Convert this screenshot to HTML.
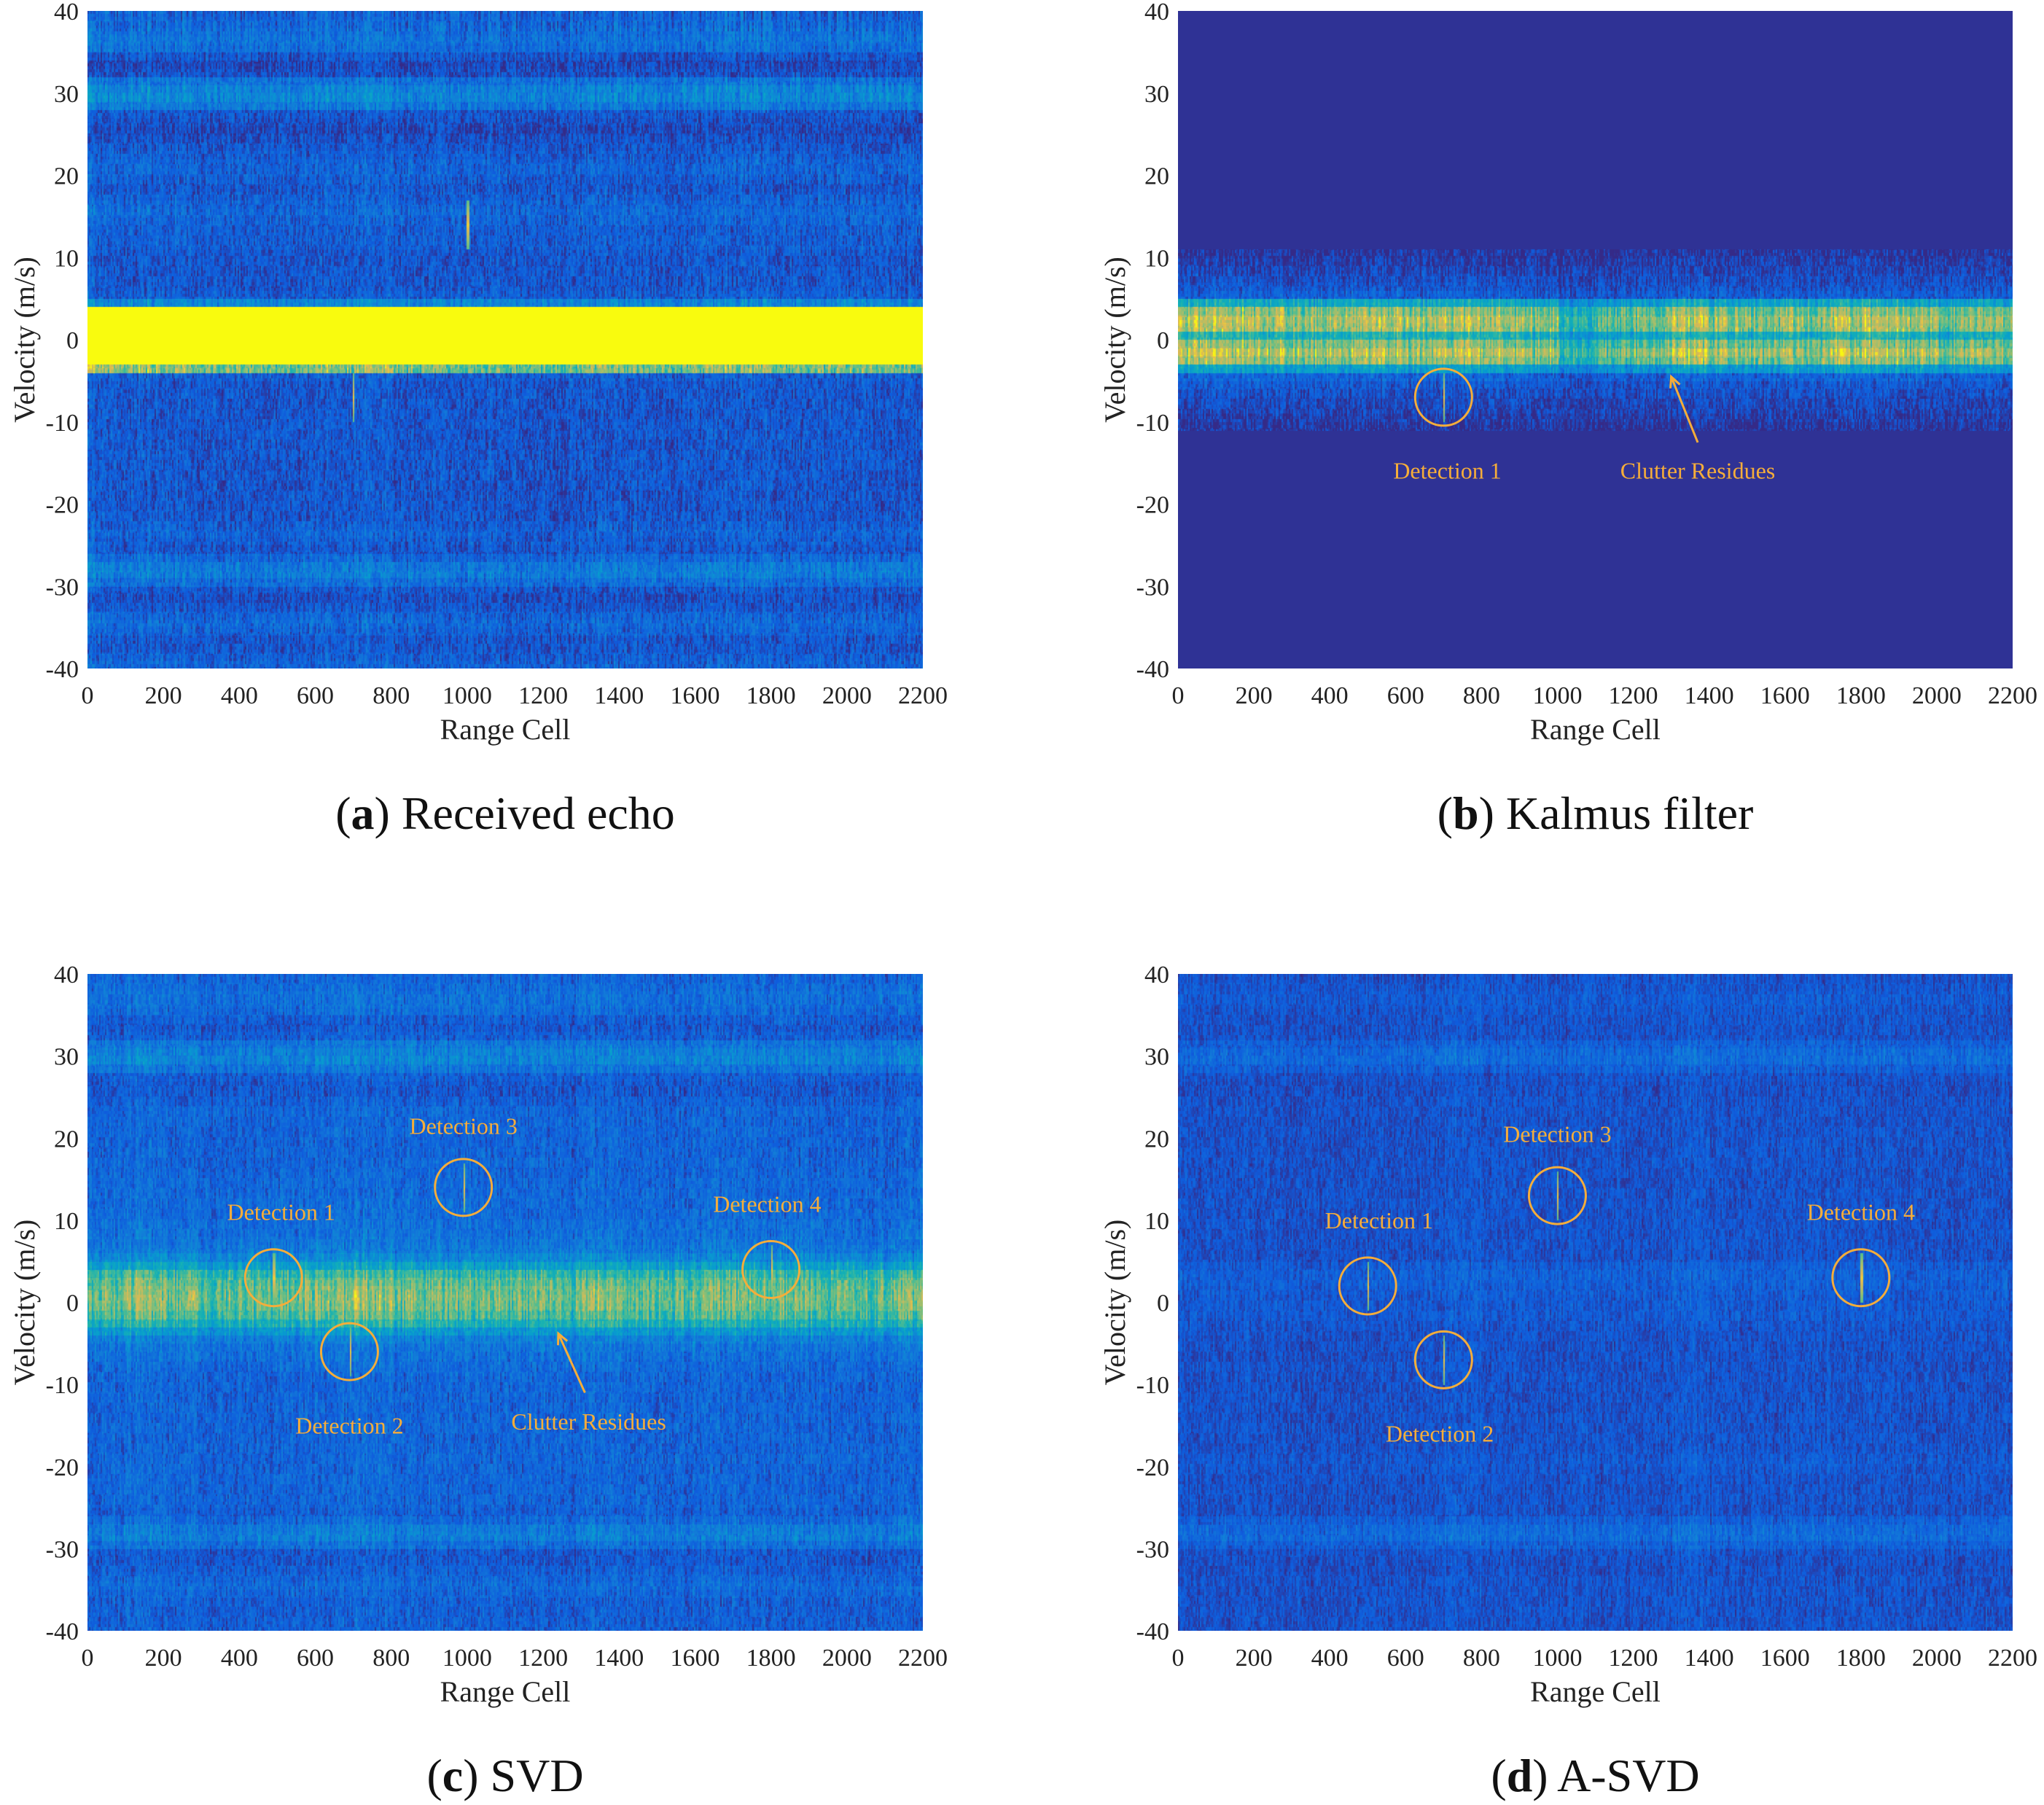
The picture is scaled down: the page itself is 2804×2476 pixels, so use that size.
<!DOCTYPE html>
<html><head><meta charset="utf-8">
<style>
html,body{margin:0;padding:0;background:#fff;}
#root{position:relative;width:2804px;height:2476px;overflow:hidden;font-family:"Liberation Serif",serif;color:#222;}
canvas{position:absolute;}
svg{position:absolute;left:0;top:0;}
</style></head>
<body>
<div id="root">
<svg id="ov" width="2804" height="2476"></svg>
</div>
<script>
// ---- data (velocity rows at 1 m/s bins from +40 to -40, top to bottom; range columns per 100 cells) ----
const velTicks = [40,30,20,10,0,-10,-20,-30,-40];
const rangeTicks = [0,200,400,600,800,1000,1200,1400,1600,1800,2000,2200];
const captions = ["Received echo","Kalmus filter","SVD","A-SVD"];
const captionLetters = ["a","b","c","d"];
const rowsA = [0.16,0.18,0.2,0.22,0.2,0.12,0.08,0.1,0.22,0.28,0.3,0.24,0.12,0.1,0.08,0.1,0.12,0.14,0.16,0.16,0.14,0.12,0.14,0.16,0.18,0.16,0.14,0.14,0.14,0.12,0.12,0.12,0.12,0.12,0.14,0.3,1,1,1,1,1,1,1,0.7,0.14,0.12,0.12,0.12,0.12,0.12,0.12,0.12,0.12,0.12,0.12,0.12,0.12,0.12,0.12,0.12,0.12,0.12,0.14,0.16,0.14,0.12,0.18,0.24,0.26,0.2,0.12,0.1,0.12,0.16,0.18,0.16,0.12,0.12,0.14,0.16];
const rowsB = [0,0,0,0,0,0,0,0,0,0,0,0,0,0,0,0,0,0,0,0,0,0,0,0,0,0,0,0,0,0.03,0.05,0.07,0.09,0.11,0.14,0.45,0.7,0.78,0.75,0.5,0.7,0.8,0.72,0.4,0.16,0.12,0.1,0.08,0.07,0.05,0.03,0,0,0,0,0,0,0,0,0,0,0,0,0,0,0,0,0,0,0,0,0,0,0,0,0,0,0,0,0];
const rowsC = [0.16,0.18,0.2,0.2,0.18,0.14,0.12,0.14,0.22,0.26,0.28,0.22,0.14,0.12,0.12,0.14,0.16,0.16,0.16,0.16,0.16,0.16,0.16,0.16,0.17,0.17,0.17,0.18,0.18,0.18,0.2,0.2,0.22,0.24,0.3,0.4,0.55,0.62,0.66,0.68,0.66,0.6,0.5,0.36,0.26,0.22,0.2,0.18,0.17,0.16,0.16,0.16,0.16,0.16,0.16,0.16,0.16,0.16,0.16,0.16,0.16,0.16,0.16,0.16,0.16,0.14,0.18,0.24,0.26,0.2,0.12,0.12,0.14,0.16,0.18,0.16,0.14,0.14,0.14,0.14];
const rowsD = [0.1,0.11,0.12,0.12,0.11,0.1,0.1,0.1,0.14,0.17,0.18,0.14,0.1,0.09,0.09,0.1,0.1,0.1,0.1,0.1,0.1,0.1,0.1,0.1,0.1,0.1,0.1,0.1,0.1,0.1,0.1,0.1,0.1,0.1,0.1,0.13,0.14,0.14,0.13,0.12,0.12,0.12,0.11,0.1,0.1,0.1,0.1,0.1,0.1,0.1,0.1,0.1,0.1,0.1,0.1,0.1,0.1,0.1,0.11,0.12,0.11,0.1,0.1,0.1,0.1,0.1,0.14,0.17,0.18,0.14,0.1,0.09,0.09,0.1,0.1,0.1,0.1,0.1,0.1,0.1];
const colsA = [1.1,1.05,1.0,0.95,0.9,0.95,1.0,1.15,0.95,0.9,0.95,0.9,0.9,1.0,0.95,0.9,1.0,1.0,0.95,0.95,1.0,0.95];
const colsB = [1.0,1.05,1.0,0.95,0.95,1.0,0.95,1.05,1.0,0.95,0.7,0.85,0.9,1.05,0.95,0.9,0.95,1.0,1.05,0.95,0.9,0.9];
const colsC = [1.0,1.05,1.0,0.95,0.95,1.0,1.05,1.1,1.0,1.0,1.0,0.95,0.95,1.05,1.0,0.95,1.0,1.0,1.0,0.95,0.95,1.0];
const colsD = [1.0,1.0,0.95,0.95,0.95,1.0,1.0,1.2,1.0,1.0,1.0,1.0,1.0,1.2,1.0,1.0,1.05,1.1,1.05,1.0,1.0,1.0];
const detA_r = [1000,700]; const detA_v = [14,-7];
const detB_r = [700]; const detB_v = [-7];
const detC_r = [490,690,990,1800]; const detC_v = [3,-6,14,4];
const detD_r = [500,700,1000,1800]; const detD_v = [2,-7,13,3];
const labelC_r = [510,690,990,1790]; const labelC_v = [11,-15,21.5,12];
const labelD_r = [530,690,1000,1800]; const labelD_v = [10,-16,20.5,11];

const panels = [
 {x:120,y:15,w:1146,h:902,rows:rowsA,cols:colsA,dr:detA_r,dv:detA_v,amp:0.22,circles:false},
 {x:1616,y:15,w:1145,h:902,rows:rowsB,cols:colsB,dr:detB_r,dv:detB_v,amp:0.2,circles:true},
 {x:120,y:1336,w:1146,h:901,rows:rowsC,cols:colsC,dr:detC_r,dv:detC_v,amp:0.2,circles:true},
 {x:1616,y:1336,w:1145,h:901,rows:rowsD,cols:colsD,dr:detD_r,dv:detD_v,amp:0.16,circles:true}
];
const parula=[[53,42,135],[15,92,221],[18,125,216],[7,156,207],[21,177,180],[89,189,140],[165,190,107],[225,185,82],[249,251,14]];
function cmap(v){v=Math.max(0,Math.min(1,v));const f=v*8,i=Math.min(7,Math.floor(f)),t=f-i;const a=parula[i],b=parula[i+1];return [a[0]+(b[0]-a[0])*t,a[1]+(b[1]-a[1])*t,a[2]+(b[2]-a[2])*t];}
function hash(a,b){let h=(a*374761393+b*668265263)|0;h=(h^(h>>>13))*1274126177|0;return ((h^(h>>>16))>>>0)/4294967296;}
const root=document.getElementById('root');
const ov=document.getElementById('ov');
const NS='http://www.w3.org/2000/svg';
function sx(p,r){return p.x+r/2200*p.w;}
function sy(p,v){return p.y+(40-v)/80*p.h;}
function txt(parent,x,y,s,size,anchor,fill,name,rot){
 const t=document.createElementNS(NS,'text');
 t.setAttribute('x',x);t.setAttribute('y',y);t.setAttribute('font-size',size);
 t.setAttribute('font-family','"Liberation Serif", serif');t.setAttribute('text-anchor',anchor);
 t.setAttribute('fill',fill);
 if(rot)t.setAttribute('transform','rotate(-90 '+x+' '+y+')');
 t.textContent=s;
 
 
 parent.appendChild(t);return t;
}
panels.forEach((p,pi)=>{
 const c=document.createElement('canvas');
 c.width=p.w;c.height=p.h;c.style.left=p.x+'px';c.style.top=p.y+'px';
 
 
 root.insertBefore(c,ov);
 const ctx=c.getContext('2d');const img=ctx.createImageData(p.w,p.h);
 const NR=p.rows.length;
 const cw=2;
 for(let px=0;px<p.w;px+=cw){
  const r=px/p.w*2200;const ci=Math.min(p.cols.length-1,Math.floor(r/100));
  const colf=p.cols[ci]*(0.8+0.4*hash(px>>1,pi*7+1));
  for(let py=0;py<p.h;py++){
   const v=40-py/p.h*80;
   const ri=Math.min(NR-1,Math.floor((40-v)/80*NR));
   let base=p.rows[ri];
   let val;
   if(base>=0.95){val=1;}
   else if(base<=0){val=0.02;}
   else{
    const n=hash(px>>1,(py/14|0)+pi*1000)-0.5;
    const n2=hash(px>>1,(py/4|0)+pi*3000)-0.5;
    val=base*colf+(n*0.7+n2*0.5)*p.amp*(base>0.5?1.2:1);
   }
   for(let k=0;k<p.dr.length;k++){
    const dx=Math.abs(r-p.dr[k]),dy=v-p.dv[k];
    if(dx<2.5&&dy>-3&&dy<3)val=Math.max(val,0.92-Math.abs(dy)*0.1);
   }
   const col=cmap(val);
   for(let q=0;q<cw&&px+q<p.w;q++){const o=(py*p.w+px+q)*4;img.data[o]=col[0];img.data[o+1]=col[1];img.data[o+2]=col[2];img.data[o+3]=255;}
  }
 }
 ctx.putImageData(img,0,0);
 velTicks.forEach(t=>txt(ov,p.x-12,sy(p,t)+12,String(t),34,'end','#222','y-tick-label'));
 rangeTicks.forEach(t=>txt(ov,sx(p,t),p.y+p.h+48,String(t),34,'middle','#222','x-tick-label'));
 txt(ov,p.x+p.w/2,p.y+p.h+97,'Range Cell',40,'middle','#222','x-axis-title');
 txt(ov,p.x-73,p.y+p.h/2,'Velocity (m/s)',40,'middle','#222','y-axis-title',true);
 const cap=document.createElementNS(NS,'text');
 cap.setAttribute('x',p.x+p.w/2);cap.setAttribute('y',p.y+p.h+220);cap.setAttribute('font-size',64);
 cap.setAttribute('font-family','"Liberation Serif", serif');cap.setAttribute('text-anchor','middle');cap.setAttribute('fill','#111');
 cap.innerHTML='(<tspan font-weight="bold">'+captionLetters[pi]+'</tspan>) '+captions[pi];
 
 
 ov.appendChild(cap);
 if(p.circles){
  p.dr.forEach((r,k)=>{
   const ci=document.createElementNS(NS,'circle');
   ci.setAttribute('cx',sx(p,r));ci.setAttribute('cy',sy(p,p.dv[k]));ci.setAttribute('r',39);
   ci.setAttribute('fill','none');ci.setAttribute('stroke','#f5ad3a');ci.setAttribute('stroke-width',3);
   
   
   ov.appendChild(ci);
  });
 }
});
const orange='#f5ad3a';
function arrow(x1,y1,x2,y2){
 const l=document.createElementNS(NS,'path');
 const a=Math.atan2(y2-y1,x2-x1),s=16;
 const d='M'+x1+' '+y1+' L'+x2+' '+y2+' M'+(x2-s*Math.cos(a-0.45))+' '+(y2-s*Math.sin(a-0.45))+' L'+x2+' '+y2+' L'+(x2-s*Math.cos(a+0.45))+' '+(y2-s*Math.sin(a+0.45));
 l.setAttribute('d',d);l.setAttribute('stroke',orange);l.setAttribute('stroke-width',3);l.setAttribute('fill','none');
 
 
 ov.appendChild(l);
}
txt(ov,sx(panels[1],710),sy(panels[1],-16)+10,'Detection 1',32,'middle',orange,'detection-label');
txt(ov,sx(panels[1],1370),sy(panels[1],-16)+10,'Clutter Residues',32,'middle',orange,'clutter-label');
arrow(sx(panels[1],1370),sy(panels[1],-12.5),sx(panels[1],1300),sy(panels[1],-4.5));
labelC_r.forEach((r,k)=>txt(ov,sx(panels[2],r),sy(panels[2],labelC_v[k])+11,'Detection '+(k+1),32,'middle',orange,'detection-label'));
txt(ov,sx(panels[2],1320),sy(panels[2],-14.5)+11,'Clutter Residues',32,'middle',orange,'clutter-label');
arrow(sx(panels[2],1310),sy(panels[2],-11),sx(panels[2],1240),sy(panels[2],-3.8));
labelD_r.forEach((r,k)=>txt(ov,sx(panels[3],r),sy(panels[3],labelD_v[k])+11,'Detection '+(k+1),32,'middle',orange,'detection-label'));
</script>
</body></html>
